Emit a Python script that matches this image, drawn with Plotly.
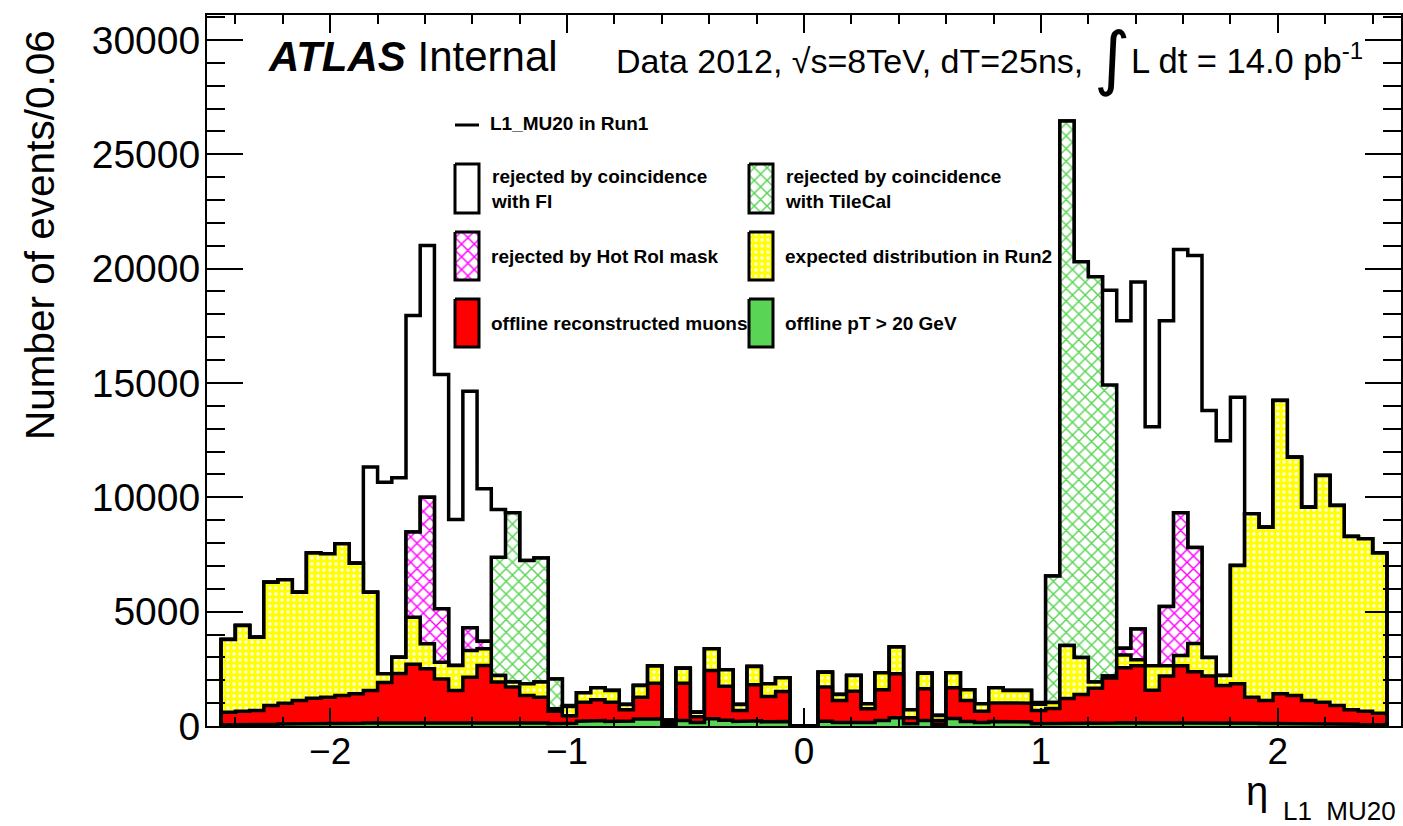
import numpy as np
import plotly.graph_objects as go

# ---------------- data (nested histograms, 82 bins of 0.06 in eta) ----------------
ETA_FIRST_EDGE = -2.46
ETA_BIN_WIDTH = 0.06

l1_mu20_run1 = [3780, 4400, 3880, 6290, 6400, 5850, 7560, 7530, 7970, 7120,
                11320, 10660, 10850, 17950, 21010, 15370, 9030, 14640, 10370, 9470,
                9320, 7240, 7350, 2060, 900, 1450, 1670, 1550, 940, 1770,
                2620, 250, 2530, 600, 3380, 2460, 940, 2600, 1850, 2110,
                0, 0, 2350, 1380, 2210, 970, 2330, 3450, 710, 2310,
                460, 2330, 1580, 970, 1670, 1550, 1550, 1030, 6560, 26460,
                20300, 19640, 19050, 17720, 19410, 13080, 17720, 20840, 20570, 13800,
                12470, 14380, 9280, 8690, 14230, 11750, 9570, 10950, 9640, 8290,
                8190, 7560]

after_fi_coincidence = [3780, 4400, 3880, 6290, 6400, 5850, 7560, 7530, 7970, 7120,
                        5850, 2280, 3010, 8480, 10000, 5130, 2650, 4300, 3710, 7380,
                        9320, 7240, 7350, 2060, 850, 1450, 1670, 1550, 940, 1770,
                        2620, 250, 2530, 600, 3380, 2460, 940, 2600, 1850, 2110,
                        0, 0, 2350, 1380, 2210, 970, 2330, 3450, 710, 2310,
                        460, 2330, 1580, 970, 1670, 1550, 1550, 950, 6560, 26460,
                        20300, 19640, 14910, 3400, 4240, 2630, 5220, 9330, 7810, 2990,
                        2210, 7020, 9280, 8690, 14230, 11750, 9570, 10950, 9640, 8290,
                        8190, 7560]

after_tilecal_coincidence = [3780, 4400, 3880, 6290, 6400, 5850, 7560, 7530, 7970, 7120,
                             5850, 2280, 3010, 8480, 10000, 5130, 2650, 4300, 3710, 2210,
                             1920, 1850, 1920, 750, 850, 1450, 1670, 1550, 940, 1770,
                             2620, 250, 2530, 600, 3380, 2460, 940, 2600, 1850, 2110,
                             0, 0, 2350, 1380, 2210, 970, 2330, 3450, 710, 2310,
                             460, 2330, 1580, 970, 1670, 1550, 1550, 950, 1030, 3520,
                             2990, 1920, 2190, 3400, 4240, 2630, 5220, 9330, 7810, 2990,
                             2210, 7020, 9280, 8690, 14230, 11750, 9570, 10950, 9640, 8290,
                             8190, 7560]

expected_run2 = [3780, 4400, 3880, 6290, 6400, 5850, 7560, 7530, 7970, 7120,
                 5850, 2280, 3010, 4760, 3600, 2790, 2650, 3300, 3380, 2210,
                 1920, 1850, 1920, 750, 850, 1450, 1670, 1550, 940, 1770,
                 2620, 250, 2530, 600, 3380, 2460, 940, 2600, 1850, 2110,
                 0, 0, 2350, 1380, 2210, 970, 2330, 3450, 710, 2310,
                 460, 2330, 1580, 970, 1670, 1550, 1550, 950, 1030, 3520,
                 2990, 1920, 2190, 3100, 2900, 2630, 2630, 3080, 3610, 2990,
                 2210, 7020, 9280, 8690, 14230, 11750, 9570, 10950, 9640, 8290,
                 8190, 7560]

offline_reco_muons = [600, 640, 680, 900, 1000, 1110, 1210, 1260, 1330, 1410,
                      1550, 1900, 2300, 2700, 2500, 2060, 1550, 2130, 2650, 1920,
                      1700, 1330, 1260, 650, 450, 1040, 1150, 1040, 710, 1260,
                      1870, 150, 1870, 400, 2430, 1740, 680, 1800, 1290, 1510,
                      0, 0, 1700, 1115, 1520, 750, 1580, 2280, 360, 1630,
                      240, 1670, 1120, 650, 1010, 1000, 1000, 680, 770, 1200,
                      1380, 1650, 2100, 2550, 2630, 1560, 2190, 2630, 2370, 2190,
                      1770, 1850, 1260, 1115, 1410, 1330, 1115, 1040, 900, 710,
                      650, 560]

offline_pt20 = [50, 50, 70, 80, 90, 100, 110, 110, 120, 120,
                130, 140, 150, 160, 160, 150, 140, 150, 160, 150,
                140, 130, 130, 100, 120, 210, 240, 200, 220, 310,
                310, 80, 240, 150, 320, 250, 200, 230, 180, 200,
                0, 0, 210, 150, 150, 150, 240, 360, 100, 240,
                80, 330, 200, 150, 200, 200, 180, 100, 100, 120,
                120, 130, 130, 140, 150, 140, 150, 150, 150, 140,
                130, 130, 120, 110, 110, 100, 100, 90, 90, 80,
                70, 60]

x_ticks = [-2, -1, 0, 1, 2]
y_ticks = [0, 5000, 10000, 15000, 20000, 25000, 30000]

legend_labels = {
    "line": "L1_MU20 in Run1",
    "fi": "rejected by coincidence<br>with FI",
    "tile": "rejected by coincidence<br>with TileCal",
    "hot": "rejected by Hot RoI mask",
    "run2": "expected distribution in Run2",
    "reco": "offline reconstructed muons",
    "pt20": "offline pT > 20 GeV",
}

# ---------------- layout constants ----------------
W, H = 1403, 826
ML, MR, MT, MB = 207, 2, 15, 100
PW, PH = W - ML - MR, H - MT - MB
FONT = "Liberation Sans, Arial, Helvetica, sans-serif"
GREEN = "#59d454"
YELLOW = "#ffff00"
MAGENTA = "#ff00ff"
RED = "#ff0000"
OUTLINE = 3.5


def px_x(px):
    return (px - ML) / PW


def px_y(py):
    return (H - MB - py) / PH


n = len(l1_mu20_run1)
edges = ETA_FIRST_EDGE + ETA_BIN_WIDTH * np.arange(n + 1)


def step(vals):
    v = np.asarray(vals, dtype=float)
    xs = np.repeat(edges, 2)
    ys = np.concatenate([[0.0], np.repeat(v, 2), [0.0]])
    return xs, ys


hatch_green = dict(shape="x", fgcolor=GREEN, bgcolor="white", size=9, solidity=0.3, fillmode="replace")
hatch_magenta = dict(shape="x", fgcolor=MAGENTA, bgcolor="white", size=9, solidity=0.3, fillmode="replace")
dots_yellow = dict(shape=".", fgcolor="white", bgcolor=YELLOW, size=6, solidity=0.25, fillmode="replace")

layers = [
    (l1_mu20_run1, "white", None),
    (after_fi_coincidence, "white", hatch_green),
    (after_tilecal_coincidence, "white", hatch_magenta),
    (expected_run2, YELLOW, dots_yellow),
    (offline_reco_muons, RED, None),
    (offline_pt20, GREEN, None),
]

fig = go.Figure()
for vals, fc, pat in layers:
    xs, ys = step(vals)
    kw = dict(x=xs, y=ys, mode="lines", fill="tozeroy", fillcolor=fc,
              line=dict(color="black", width=OUTLINE), hoverinfo="skip", showlegend=False)
    if pat is not None:
        kw["fillpattern"] = pat
    fig.add_trace(go.Scatter(**kw))

# ---------------- hand-made legend (overlay pixel axes) ----------------
col_x = [455, 749]
box_w = 24
rows_y = [(164, 213), (232, 280), (299, 347)]
swatches = [
    (0, 0, "white", None, "fi"), (1, 0, "white", hatch_green, "tile"),
    (0, 1, "white", hatch_magenta, "hot"), (1, 1, YELLOW, dots_yellow, "run2"),
    (0, 2, RED, None, "reco"), (1, 2, GREEN, None, "pt20"),
]
annotations = []
for c, r, fc, pat, key in swatches:
    x0 = col_x[c] - ML
    x1 = x0 + box_w
    y0, y1 = rows_y[r][0] - MT, rows_y[r][1] - MT
    kw = dict(x=[x0, x1, x1, x0, x0], y=[y0, y0, y1, y1, y0], mode="lines", fill="toself",
              fillcolor=fc, line=dict(color="black", width=3), xaxis="x2", yaxis="y2",
              hoverinfo="skip", showlegend=False)
    if pat is not None:
        kw["fillpattern"] = pat
    fig.add_trace(go.Scatter(**kw))
    yc = (rows_y[r][0] + rows_y[r][1]) / 2
    annotations.append(dict(text="<b>" + legend_labels[key] + "</b>", x=px_x(col_x[c] + 34), y=px_y(yc),
                            xanchor="left", yanchor="middle", align="left",
                            font=dict(family=FONT, size=19, color="black")))

annotations.append(dict(text="<b>" + legend_labels["line"] + "</b>", x=px_x(488), y=px_y(124),
                        xanchor="left", yanchor="middle",
                        font=dict(family=FONT, size=19, color="black")))
shapes = [dict(type="line", xref="paper", yref="paper", x0=px_x(455), x1=px_x(479), y0=px_y(125),
               y1=px_y(125), line=dict(color="black", width=3))]

# ---------------- titles / labels ----------------
annotations += [
    dict(text="<b><i>ATLAS</i></b> Internal", x=px_x(266), y=px_y(56), xanchor="left", yanchor="middle",
         font=dict(family=FONT, size=42, color="black")),
    dict(text="Data 2012, √s=8TeV, dT=25ns,", x=px_x(614), y=px_y(61), xanchor="left", yanchor="middle",
         font=dict(family=FONT, size=34, color="black")),
    dict(text="∫", x=px_x(1112), y=px_y(58), xanchor="center", yanchor="middle",
         font=dict(family="DejaVu Sans, sans-serif", size=70, color="black")),
    dict(text="L dt = 14.0 pb<sup>-1</sup>", x=px_x(1129), y=px_y(58), xanchor="left", yanchor="middle",
         font=dict(family=FONT, size=34.5, color="black")),
    dict(text="Number of events/0.06", textangle=-90, x=px_x(40), y=px_y(28), xanchor="center",
         yanchor="top", font=dict(family=FONT, size=40.5, color="black")),
    dict(text="η", x=px_x(1257), y=px_y(791), xanchor="center", yanchor="middle",
         font=dict(family=FONT, size=40, color="black")),
    dict(text="L1\u00a0\u00a0MU20", x=px_x(1281), y=px_y(811), xanchor="left", yanchor="middle",
         font=dict(family=FONT, size=26, color="black")),
]
for a in annotations:
    a.setdefault("xref", "paper")
    a.setdefault("yref", "paper")
    a.setdefault("showarrow", False)

axis_common = dict(ticks="inside", tickwidth=2, tickcolor="black", showline=True, linewidth=2,
                   linecolor="black", mirror="allticks", showgrid=False, zeroline=False,
                   automargin=False)

fig.update_layout(
    width=W, height=H, margin=dict(l=ML, r=MR, t=MT, b=MB, autoexpand=False),
    paper_bgcolor="white", plot_bgcolor="white",
    xaxis=dict(range=[-2.52, 2.52], tickmode="array", tickvals=x_ticks, ticklen=18,
               ticklabelstandoff=-8, tickfont=dict(family=FONT, size=37, color="black"),
               minor=dict(tickmode="linear", tick0=0, dtick=0.2, ticks="inside", ticklen=9,
                          tickwidth=2, tickcolor="black"),
               **axis_common),
    yaxis=dict(range=[0, 31090], tickmode="array", tickvals=y_ticks, tickformat="d", ticklen=36,
               ticklabelstandoff=-3, tickfont=dict(family=FONT, size=39, color="black"),
               minor=dict(tickmode="linear", tick0=0, dtick=1000, ticks="inside", ticklen=18,
                          tickwidth=2, tickcolor="black"),
               **axis_common),
    xaxis2=dict(overlaying="x", anchor="y2", range=[0, PW], visible=False, fixedrange=True),
    yaxis2=dict(overlaying="y", anchor="x2", range=[PH, 0], visible=False, fixedrange=True),
    annotations=annotations, shapes=shapes, showlegend=False,
)

fig.write_html("out.html", config={"displayModeBar": False},
               post_script="document.body.style.margin='0px';document.body.style.overflow='hidden';")
